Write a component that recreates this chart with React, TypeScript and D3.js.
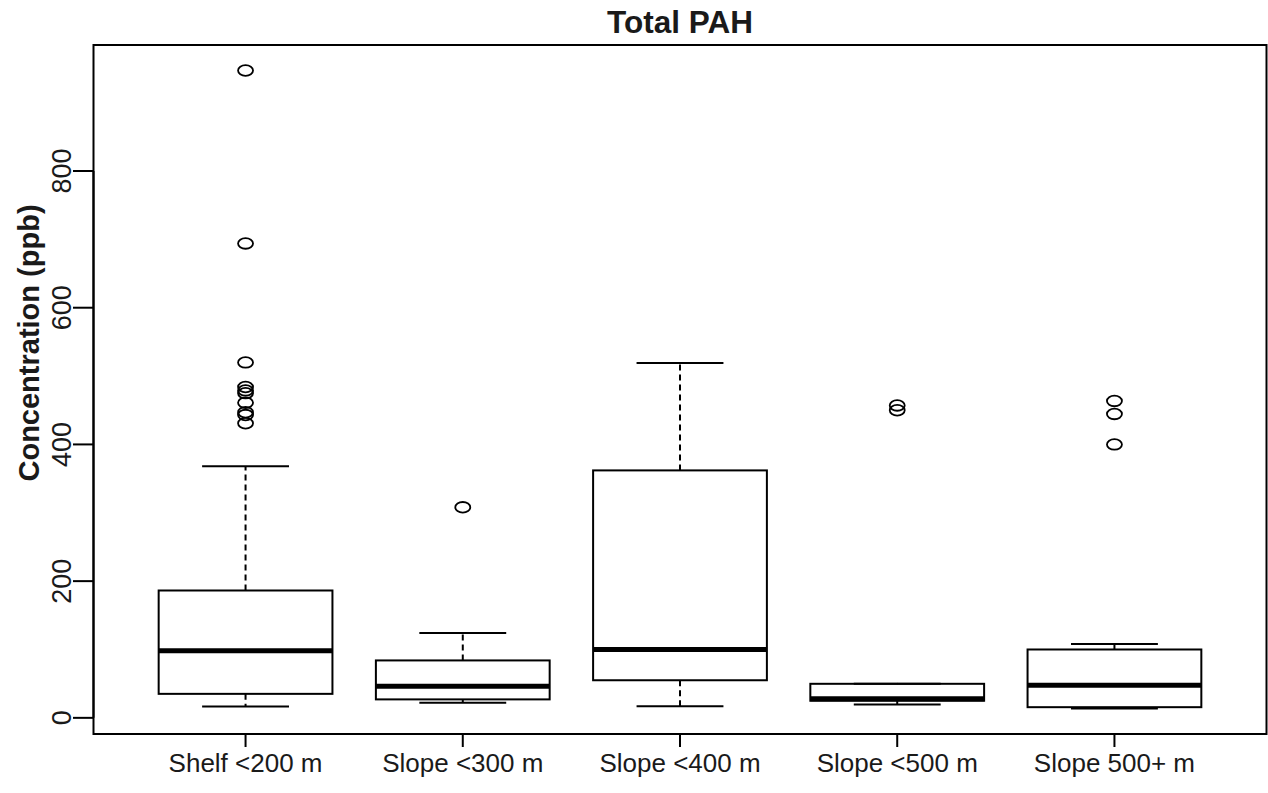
import React from "react";
import * as d3 from "d3";

const categories = ["Shelf <200 m", "Slope <300 m", "Slope <400 m", "Slope <500 m", "Slope 500+ m"];
const lowerWhisker = [16.6, 22, 17, 19.6, 13.7];
const q1 = [35.1, 27, 55, 25, 15.6];
const medians = [98, 46.4, 100, 28, 47.8];
const q3 = [186.3, 84, 362, 49.8, 100];
const upperWhisker = [368, 124.3, 519, 49.8, 108];
const outliers: number[][] = [
  [947, 694, 520, 484, 479, 475, 461, 447, 443, 431],
  [308],
  [],
  [457, 450],
  [463.6, 444.6, 400],
];
const yTicks = [0, 200, 400, 600, 800];
const title = "Total PAH";
const yLabel = "Concentration (ppb)";

const W = 1268;
const H = 793;
const left = 93.5;
const right = 1266.5;
const top = 45;
const bottom = 734;
const FONT = "'Liberation Sans', Arial, Helvetica, sans-serif";

export default function App() {
  const all = [...lowerWhisker, ...upperWhisker, ...outliers.flat()];
  const lo = d3.min(all) as number;
  const hi = d3.max(all) as number;
  const ext = (hi - lo) * 0.04;
  const y = d3.scaleLinear().domain([lo - ext, hi + ext]).range([bottom, top]);
  const n = categories.length;
  const x = d3.scaleLinear().domain([0.5 - n * 0.04, n + 0.5 + n * 0.04]).range([left, right]);
  const bw = x(0.8) - x(0);
  const cap = bw / 2;

  return (
    <svg
      width={W}
      height={H}
      style={{ position: "absolute", left: 0, top: 0, background: "#fff" }}
      fontFamily={FONT}
    >
      <text x={(left + right) / 2} y={33} textAnchor="middle" fontSize={31.5} fontWeight="bold" fill="#1a1a1a">
        {title}
      </text>
      <text
        transform={`translate(39,343) rotate(-90)`}
        textAnchor="middle"
        fontSize={29}
        fontWeight="bold"
        fill="#1a1a1a"
      >
        {yLabel}
      </text>
      {yTicks.map((t) => (
        <g key={t}>
          <line x1={73} x2={left} y1={y(t)} y2={y(t)} stroke="#000" strokeWidth={2} />
          <text
            transform={`translate(71,${y(t)}) rotate(-90)`}
            textAnchor="middle"
            fontSize={27}
            fill="#1a1a1a"
          >
            {t}
          </text>
        </g>
      ))}
      <line x1={left} x2={left} y1={y(0)} y2={y(800)} stroke="#000" strokeWidth={2} />
      {categories.map((c, i) => {
        const cx = x(i + 1);
        return (
          <g key={c}>
            <line x1={cx} x2={cx} y1={bottom} y2={bottom + 13} stroke="#000" strokeWidth={2} />
            <text x={cx} y={772} textAnchor="middle" fontSize={26} fill="#1a1a1a">
              {c}
            </text>
            <line x1={cx} x2={cx} y1={y(q3[i])} y2={y(upperWhisker[i])} stroke="#000" strokeWidth={2} strokeDasharray="6,4" />
            <line x1={cx} x2={cx} y1={y(q1[i])} y2={y(lowerWhisker[i])} stroke="#000" strokeWidth={2} strokeDasharray="6,4" />
            <line x1={cx - cap / 2} x2={cx + cap / 2} y1={y(upperWhisker[i])} y2={y(upperWhisker[i])} stroke="#000" strokeWidth={2} />
            <line x1={cx - cap / 2} x2={cx + cap / 2} y1={y(lowerWhisker[i])} y2={y(lowerWhisker[i])} stroke="#000" strokeWidth={2} />
            <rect x={cx - bw / 2} y={y(q3[i])} width={bw} height={y(q1[i]) - y(q3[i])} fill="none" stroke="#000" strokeWidth={2} />
            <line x1={cx - bw / 2} x2={cx + bw / 2} y1={y(medians[i])} y2={y(medians[i])} stroke="#000" strokeWidth={5} />
            {outliers[i].map((v, k) => (
              <ellipse key={k} cx={cx} cy={y(v)} rx={7.5} ry={5.3} fill="none" stroke="#000" strokeWidth={1.8} />
            ))}
          </g>
        );
      })}
      <rect x={left} y={top} width={right - left} height={bottom - top} fill="none" stroke="#000" strokeWidth={2} />
    </svg>
  );
}
